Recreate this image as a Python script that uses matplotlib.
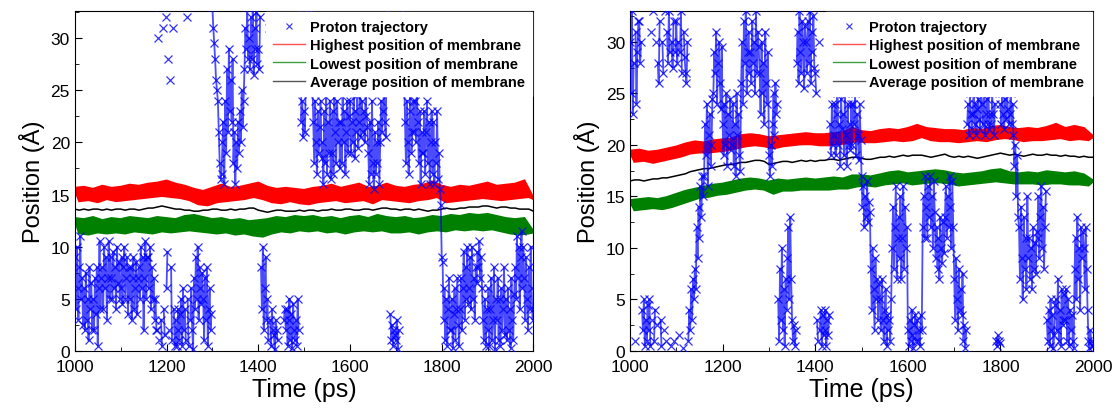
import numpy as np
import matplotlib
matplotlib.use("Agg")
import matplotlib.pyplot as plt
from matplotlib.lines import Line2D
from matplotlib.ticker import MultipleLocator

plt.rcParams['font.family'] = ['Liberation Sans', 'DejaVu Sans']

# proton position sampled every 2 ps, 1000..2000 ps
traj_time = np.arange(1000, 2001, 2)
traj_left = [
    9, 4, 10, 6, 3, 8, 11, 5, 7, 2.5,
    6, 2, 7.5, 3, 5, 1, 8, 4, 6.5, 2,
    5, 2, 7, 3.5, 8, 0.5, 6, 10.5, 4, 7,
    8, 4, 10, 6, 9, 3, 7, 10.5, 5, 9,
    7, 5, 9.5, 6, 8, 4, 10, 6.5, 8.5, 5,
    6, 9, 4.5, 8, 10, 5, 7, 9, 3.5, 8,
    5, 8, 3, 7, 9, 4, 6, 8.5, 3.5, 7,
    8, 5, 10, 6, 9, 2, 7, 10.5, 5, 9,
    9, 6, 10, 4, 8, 5, 7, 3, 5, 2,
    2, 30, 1, 33, 3, 0.5, 31, 4, 1.5, 32,
    6, 9.5, 28, 2, 26, 8, 1, 31, 4, 0.5,
    3, 0.5, 2, 4, 1, 3.5, 5, 0.5, 6, 2,
    4, 1, 32, 5, 0.5, 33, 3, 6, 2, 0.2,
    7, 4, 9, 5, 10, 3, 8, 6, 4.5, 7.5,
    5, 1, 7, 3, 8, 0.5, 4, 6, 2, 3.5,
    33, 31, 29.5, 28, 26, 25, 24, 21, 18, 16.5,
    17, 20, 22, 16, 24, 19, 27, 21, 29, 23,
    26, 22, 28, 18, 21, 16, 20, 17.5, 22, 19,
    23, 20, 25, 21.5, 24, 27, 31, 29, 33, 28,
    30, 27, 32, 28, 33, 26.5, 31, 29, 32.5, 27.5,
    29, 27, 32, 8, 4, 10, 2, 6, 9, 3,
    5, 1, 31, 3, 0.5, 4, 2, 1.5, 0.2, 3,
    2, 1, 34, 34, 34, 34, 34, 34, 3, 4,
    2, 4, 0.5, 3, 5, 1, 3.5, 0.3, 4.5, 2,
    1, 3, 0.5, 5, 2, 34, 34, 22, 24, 20.5,
    23, 21, 28, 30, 34, 34, 34, 34, 28, 26,
    22, 18, 24, 20, 17, 23, 19, 21.5, 24, 18.5,
    20, 16, 23, 18, 25, 17, 22, 19, 24, 16.5,
    19, 23, 17, 25, 21, 18, 24, 20, 22, 17.5,
    22, 18, 25, 20, 23, 17, 21, 24, 19, 22.5,
    24, 19, 22, 20, 25, 18.5, 23, 21, 24.5, 19.5,
    22, 25, 20.5, 24, 21, 23, 20, 25, 22.5, 21.5,
    19, 16, 22, 17, 24, 18, 15.5, 21, 17, 20,
    18, 22, 16, 20, 24, 21, 23, 25, 22, 20.5,
    30, 28, 34, 34, 3.5, 1, 2.5, 0.5, 2, 1.5,
    1, 3, 0.2, 2, 34, 34, 34, 34, 30, 27,
    22, 18, 24, 20, 17, 23, 25, 19, 21, 24,
    21, 24, 20, 25, 22, 18, 23, 16, 21, 19,
    19, 23, 17, 21, 24, 18, 22, 16, 20, 23,
    17, 22, 16, 20, 18, 23, 16.5, 19, 15.5, 14,
    9, 8.5, 3, 6, 1, 5, 0.5, 4, 7, 2,
    2, 5, 0.3, 3.5, 6, 1, 4, 7, 2.5, 0.5,
    4, 7, 2, 6, 9.5, 3, 8, 5, 10, 4.5,
    6, 9, 4, 10, 5, 7, 3, 8, 6.5, 9.5,
    8, 10.5, 7, 9, 6, 3, 1, 5, 0.5, 4,
    2, 6, 0.5, 4, 7, 1, 3, 8, 0.2, 5,
    3, 7, 1, 5, 0.5, 6, 2, 4, 8, 1.5,
    5, 1, 6, 2, 4, 0.3, 7, 3, 1, 5.5,
    8, 5, 11, 7, 10, 4, 9, 11.5, 6, 10,
    7, 3, 9, 5, 2, 8, 4, 10, 6, 3,
    4,
]
traj_right = [
    30, 25, 33, 23, 28, 1, 31, 24, 29, 32,
    32, 28, 30, 4, 2, 5, 0.5, 3, 1, 4.5,
    2, 5, 0.5, 31, 3, 33, 1, 4, 30, 2.5,
    28, 26, 32, 3, 0.5, 30, 27, 2, 33, 1,
    31, 28, 33, 29, 0.5, 30, 27.5, 32, 1, 29,
    32, 28, 30, 1.5, 29, 33, 27, 0.3, 31, 28.5,
    27, 26, 30, 1, 4, 2, 6, 3, 7, 5,
    8, 6, 12, 9, 14, 11, 16, 13, 17, 15,
    17, 22, 19, 24, 16, 21, 23, 18, 20, 24.5,
    25, 29, 27, 31, 24, 28, 30, 26, 23.5, 29.5,
    22, 19, 24, 20, 25, 18, 23, 21, 24.5, 19.5,
    20, 24, 18, 22, 17, 25, 21, 23, 19, 17.5,
    26, 30, 24, 32, 28, 33, 25, 29, 31, 27,
    29, 26, 32, 28, 30, 25, 33, 27, 31, 29.5,
    27, 23, 30, 25, 28, 22, 31, 26, 24, 29,
    19, 17, 20, 18, 22, 25, 21, 26, 23, 24,
    5, 1, 8, 3, 10, 2, 6, 0.5, 7, 4,
    9, 12, 5, 13, 7, 3, 1, 2.5, 0.5, 2,
    28, 31, 26, 33, 29, 27, 32, 30, 25.5, 31.5,
    30, 27, 32, 28, 33, 26, 31, 29, 32.5, 27.5,
    27, 25, 3, 1, 30, 2, 4, 0.5, 3.5, 1.5,
    2, 4, 0.5, 3, 1.5, 3.5, 22, 19, 24, 20,
    21, 24, 19, 23, 25, 20, 22, 18, 24.5, 21.5,
    23, 19, 25, 21, 18, 24, 20, 22, 19.5, 24,
    20, 24, 22, 25, 19, 23, 21, 18.5, 24, 20.5,
    17, 14, 16, 12, 15, 13, 16.5, 12.5, 14.5, 13.5,
    8, 4, 10, 6, 2, 9, 5, 7, 3, 6.5,
    5, 2, 7, 3, 1, 4, 6, 0.5, 3.5, 2,
    3, 1, 5, 10, 14, 8, 12, 16, 7, 11,
    13, 9, 15, 7, 11, 16, 8, 14, 10, 12,
    2, 0.5, 3, 1, 4, 1.5, 0.3, 2.5, 3.5, 1,
    3, 1, 2, 0.5, 3.5, 2, 12, 15, 11, 17,
    14, 11, 16, 13, 17, 12, 15, 10, 16.5, 13.5,
    9, 12, 8, 11, 7, 13, 10, 8.5, 12.5, 9.5,
    13, 16, 11, 15, 12, 17, 14, 10, 16.5, 12,
    7, 3, 9, 5, 2, 8, 4, 6, 3.5, 7.5,
    1, 2.5, 0.3, 2, 22, 24, 21, 25, 23, 21.5,
    23, 25, 22, 24, 21, 23.5, 24.5, 22.5, 21.5, 25,
    24, 22, 25, 21, 23, 24.5, 22, 25, 21.5, 23,
    22, 25, 23, 21, 24, 1, 0.5, 1.5, 1, 0.8,
    24, 22, 25, 23, 21.5, 24.5, 22.5, 25, 23.5, 22,
    23, 25, 22, 24, 21, 18, 20, 15, 19, 13,
    12, 7, 14, 9, 5, 13, 8, 11, 6, 15,
    9, 11, 7, 10, 6, 12, 8, 10.5, 7.5, 11.5,
    11, 15, 9, 13, 16, 10, 14, 8, 12, 15.5,
    3, 1, 4, 0.5, 5, 2, 3.5, 0.3, 1.5, 4.5,
    5, 2, 7, 1, 4, 0.5, 6, 3, 2.5, 5.5,
    3, 6, 1, 5, 0.5, 4, 2, 3.5, 1, 0.3,
    8, 11, 5, 13, 7, 10, 4, 12, 9, 11.5,
    10, 6, 12, 8, 4, 1, 0.3, 2, 1, 0.5,
    0.5,
]

# membrane positions sampled every 10 ps (alternating upper / lower swing)
mem_time = np.arange(1000, 2001, 10)
high_left = [
    15.6, 14.4, 15.7, 14.5, 15.5, 14.3, 15.8, 14.6, 15.6, 14.4,
    15.7, 14.5, 15.9, 14.6, 15.8, 14.7, 16.0, 14.8, 16.1, 14.9,
    16.3, 14.8, 16.0, 14.7, 15.8, 14.5, 15.5, 14.1, 15.3, 14.0,
    15.6, 14.3, 15.9, 14.4, 15.6, 14.5, 15.7, 14.6, 15.9, 14.8,
    16.1, 14.6, 15.7, 14.3, 15.5, 14.2, 15.6, 14.4, 15.5, 14.2,
    15.4, 14.1, 15.6, 14.3, 15.7, 14.4, 15.9, 14.5, 15.6, 14.3,
    15.8, 14.4, 16.0, 14.5, 15.6, 14.2, 15.7, 14.6, 16.0, 14.5,
    15.7, 14.4, 15.6, 14.3, 15.8, 14.5, 15.9, 14.6, 16.2, 14.8,
    15.8, 14.3, 15.6, 14.4, 15.8, 14.5, 15.7, 14.6, 15.9, 14.7,
    16.1, 14.6, 15.8, 14.5, 15.9, 14.6, 16.0, 14.7, 16.3, 14.8,
    14.6,
]
low_left = [
    12.7, 11.3, 12.6, 11.2, 12.8, 11.4, 12.5, 11.3, 12.7, 11.4,
    12.6, 11.3, 12.8, 11.5, 12.7, 11.4, 12.6, 11.3, 12.8, 11.5,
    12.7, 11.4, 12.6, 11.5, 12.9, 11.6, 13.0, 11.5, 12.8, 11.4,
    12.6, 11.3, 12.7, 11.4, 12.5, 11.2, 12.6, 11.3, 12.4, 11.1,
    12.5, 11.0, 12.6, 11.3, 12.8, 11.5, 12.7, 11.4, 12.9, 11.6,
    12.8, 11.5, 12.9, 11.6, 12.7, 11.4, 12.8, 11.5, 12.6, 11.3,
    12.8, 11.5, 12.9, 11.6, 12.7, 11.5, 13.0, 11.6, 12.8, 11.4,
    12.7, 11.4, 12.8, 11.5, 12.6, 11.3, 12.7, 11.5, 12.9, 11.6,
    12.8, 11.5, 13.0, 11.7, 12.9, 11.6, 13.1, 11.7, 13.0, 11.6,
    13.1, 11.7, 12.9, 11.5, 12.7, 11.3, 12.6, 11.2, 12.7, 11.3,
    11.4,
]
avg_left = [
    13.6, 13.5, 13.6, 13.5, 13.6, 13.6, 13.5, 13.6, 13.5, 13.6,
    13.6, 13.5, 13.6, 13.6, 13.5, 13.6, 13.7, 13.7, 13.8, 13.9,
    13.8, 13.7, 13.6, 13.6, 13.5, 13.5, 13.4, 13.4, 13.5, 13.5,
    13.6, 13.6, 13.5, 13.5, 13.6, 13.5, 13.6, 13.6, 13.7, 13.7,
    13.5, 13.4, 13.3, 13.4, 13.5, 13.5, 13.4, 13.4, 13.4, 13.5,
    13.4, 13.5, 13.5, 13.4, 13.5, 13.5, 13.6, 13.5, 13.5, 13.6,
    13.6, 13.5, 13.5, 13.6, 13.6, 13.5, 13.6, 13.7, 13.7, 13.6,
    13.6, 13.5, 13.6, 13.6, 13.5, 13.6, 13.5, 13.4, 13.5, 13.5,
    13.6, 13.7, 13.6, 13.6, 13.7, 13.7, 13.8, 13.8, 13.8, 13.9,
    13.9, 13.8, 13.7, 13.8, 13.8, 13.7, 13.7, 13.6, 13.6, 13.6,
    13.4,
]
high_right = [
    19.4, 18.4, 19.5, 18.5, 19.3, 18.3, 19.4, 18.5, 19.6, 18.7,
    19.8, 18.9, 20.1, 19.2, 20.3, 19.3, 20.2, 19.3, 20.4, 19.4,
    20.5, 19.5, 20.6, 19.7, 20.9, 19.9, 21.0, 20.0, 20.9, 19.9,
    20.7, 19.7, 20.8, 19.9, 20.9, 20.0, 21.0, 20.1, 21.1, 20.1,
    21.0, 20.0, 21.0, 20.0, 21.1, 20.1, 21.2, 20.2, 21.6, 20.4,
    21.3, 20.3, 21.2, 20.3, 21.4, 20.4, 21.5, 20.5, 21.4, 20.4,
    21.6, 20.5, 21.9, 20.8, 21.6, 20.5, 21.5, 20.4, 21.4, 20.4,
    21.4, 20.3, 21.3, 20.4, 21.5, 20.5, 21.4, 20.4, 21.7, 20.6,
    21.8, 20.7, 21.6, 20.6, 21.5, 20.4, 21.6, 20.5, 21.5, 20.5,
    21.7, 20.6, 22.0, 20.7, 21.6, 20.5, 21.8, 20.6, 21.6, 20.5,
    20.8,
]
low_right = [
    14.6, 13.7, 14.7, 13.8, 14.8, 13.9, 14.7, 13.8, 14.9, 14.0,
    15.2, 14.3, 15.5, 14.6, 15.7, 14.9, 15.9, 15.0, 16.1, 15.2,
    16.2, 15.3, 16.4, 15.5, 16.6, 15.7, 16.7, 15.8, 16.6, 15.7,
    16.4, 15.3, 16.6, 15.6, 16.5, 15.6, 16.6, 15.7, 16.7, 15.7,
    16.6, 15.7, 16.7, 15.7, 16.8, 15.8, 16.7, 15.8, 17.0, 16.0,
    17.0, 16.1, 16.9, 16.0, 17.1, 16.2, 17.3, 16.3, 17.4, 16.4,
    17.2, 16.2, 17.3, 16.3, 17.4, 16.4, 17.5, 16.4, 17.4, 16.3,
    17.2, 16.1, 17.1, 16.2, 17.2, 16.3, 17.3, 16.4, 17.5, 16.5,
    17.6, 16.4, 17.3, 16.3, 17.2, 16.3, 17.3, 16.3, 17.2, 16.2,
    17.4, 16.3, 17.3, 16.3, 17.2, 16.2, 17.3, 16.2, 17.1, 16.1,
    16.5,
]
avg_right = [
    16.5, 16.6, 16.6, 16.5, 16.6, 16.7, 16.7, 16.8, 16.8, 16.9,
    17.0, 17.1, 17.2, 17.4, 17.5, 17.6, 17.7, 17.7, 17.8, 17.9,
    18.0, 18.1, 18.1, 18.2, 18.3, 18.3, 18.4, 18.5, 18.5, 18.4,
    18.1, 18.2, 18.3, 18.4, 18.4, 18.3, 18.4, 18.5, 18.4, 18.5,
    18.4, 18.5, 18.5, 18.6, 18.6, 18.5, 18.6, 18.7, 18.8, 18.8,
    18.7, 18.6, 18.6, 18.7, 18.8, 18.8, 18.9, 18.8, 18.9, 19.0,
    18.9, 19.0, 19.0, 19.0, 18.9, 18.8, 18.9, 19.0, 19.1, 18.9,
    18.8, 18.9, 18.8, 18.9, 18.8, 18.7, 18.8, 18.9, 19.0, 19.1,
    19.2, 19.1, 19.0, 19.1, 19.0, 18.9, 19.0, 19.1, 19.0, 19.0,
    19.1, 19.0, 19.0, 18.9, 19.0, 18.9, 18.9, 18.8, 18.9, 18.8,
    18.8,
]

labels = ["Proton trajectory", "Highest position of membrane",
          "Lowest position of membrane", "Average position of membrane"]


def draw_band(ax, values, color):
    # fast jitter: shade between the upper swings and the lower swings
    v = np.asarray(values)
    t_up, v_up = mem_time[0::2], v[0::2]
    t_dn, v_dn = mem_time[1::2], v[1::2]
    ax.fill(np.r_[t_up, t_dn[::-1]], np.r_[v_up, v_dn[::-1]],
            facecolor=color, edgecolor=color, lw=2.0, zorder=2)
    ax.plot(mem_time, v, color=color, lw=1.0, zorder=2)


def draw_panel(ax, traj, high, low, avg, ytop):
    draw_band(ax, high, "#ff0000")
    draw_band(ax, low, "#008000")
    ax.plot(mem_time, avg, color="black", lw=1.1, zorder=2)

    # path between samples, broken where the proton wraps around the box
    path = np.array(traj, dtype=float)
    jump = np.where(np.abs(np.diff(path)) > 12)[0] + 1
    path_t = np.insert(traj_time.astype(float), jump, np.nan)
    path_y = np.insert(path, jump, np.nan)
    ax.plot(path_t, path_y, color="#0000ff", lw=1.3, alpha=0.7, zorder=3)
    ax.plot(traj_time, traj, ls="none", marker="x", ms=6, mew=0.9,
            color="#0000ff", alpha=0.8, zorder=3)

    ax.set_xlim(1000, 2000)
    ax.set_ylim(0, ytop)
    ax.xaxis.set_major_locator(MultipleLocator(200))
    ax.xaxis.set_minor_locator(MultipleLocator(100))
    ax.yaxis.set_major_locator(MultipleLocator(5))
    ax.yaxis.set_minor_locator(MultipleLocator(2.5))
    ax.tick_params(which="both", direction="in", labelsize=12.5)
    ax.tick_params(which="major", length=5)
    ax.tick_params(which="minor", length=3)
    ax.tick_params(axis="x", pad=6)
    ax.set_xlabel("Time (ps)", fontsize=18, labelpad=2)
    ax.set_ylabel("Position (Å)", fontsize=17, labelpad=4)

    handles = [
        Line2D([], [], ls="none", marker="x", ms=4, mew=0.8, color="#3333ff"),
        Line2D([], [], color="#ff5050", lw=1),
        Line2D([], [], color="#40a040", lw=1),
        Line2D([], [], color="#555555", lw=1),
    ]
    leg = ax.legend(handles, labels, loc="upper right", bbox_to_anchor=(1, 1),
                    borderaxespad=0.1, frameon=True, fancybox=False,
                    handlelength=2.2, handletextpad=0.3, labelspacing=0.3,
                    borderpad=0.5, prop={"weight": "bold", "size": 10.5})
    leg.get_frame().set_facecolor("white")
    leg.get_frame().set_edgecolor("white")
    leg.get_frame().set_alpha(1)
    leg.set_zorder(5)


fig = plt.figure(figsize=(11.16, 4.14), dpi=100)
ax1 = fig.add_axes([0.067, 0.150, 0.411, 0.821])
ax2 = fig.add_axes([0.5645, 0.150, 0.415, 0.821])

draw_panel(ax1, traj_left, high_left, low_left, avg_left, 32.6)
draw_panel(ax2, traj_right, high_right, low_right, avg_right, 33.0)

fig.savefig("out.png", dpi=100)
